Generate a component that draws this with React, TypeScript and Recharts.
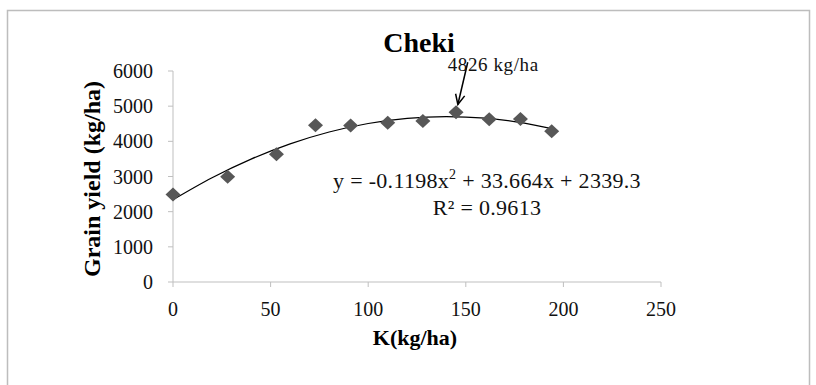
import { ComposedChart, Line, ReferenceLine, Scatter, XAxis, YAxis } from "recharts";

// K rate (kg/ha) vs grain yield (kg/ha)
const kRates = [0, 28, 53, 73, 91, 110, 128, 145, 162, 178, 194];
const grainYield = [2490, 2990, 3630, 4455, 4450, 4530, 4580, 4826, 4630, 4635, 4285];

// polynomial trendline as drawn in the figure
const trendRates = [0, 20, 40, 60, 80, 100, 120, 140, 160, 180, 194];
const trendYield = [2339, 2965, 3494, 3928, 4266, 4508, 4654, 4704, 4659, 4517, 4361];

const xTicks = [0, 50, 100, 150, 200, 250];
const yTicks = [0, 1000, 2000, 3000, 4000, 5000, 6000];

const peakRate = 145;
const peakYield = 4826;
const equation = ["y = -0.1198x", "2", " + 33.664x + 2339.3"];
const rSquared = "R² = 0.9613";

const points = kRates.map((x, i) => ({ x, y: grainYield[i] }));
const trend = trendRates.map((x, i) => ({ x, y: trendYield[i] }));

const FONT = "Liberation Serif";
const AXIS = "#bfbfbf";
const tickStyle = { fontSize: 20, fill: "#111", fontFamily: FONT };

function Diamond(props: any) {
  const { cx, cy } = props;
  return (
    <polygon
      points={`${cx},${cy - 7} ${cx + 7.5},${cy} ${cx},${cy + 7} ${cx - 7.5},${cy}`}
      fill="#575757"
    />
  );
}

// arrow from the label down to the peak point
function Arrow(props: any) {
  const { x1, y1, x2, y2 } = props;
  const dx = x1 - x2;
  const dy = y1 - y2;
  const len = Math.hypot(dx, dy);
  const ux = dx / len;
  const uy = dy / len;
  const tx = x1 - ux * 8;
  const ty = y1 - uy * 8;
  const a = (25 * Math.PI) / 180;
  const h = 11;
  const lx = tx - h * (ux * Math.cos(a) - uy * Math.sin(a));
  const ly = ty - h * (uy * Math.cos(a) + ux * Math.sin(a));
  const rx = tx - h * (ux * Math.cos(a) + uy * Math.sin(a));
  const ry = ty - h * (uy * Math.cos(a) - ux * Math.sin(a));
  return (
    <g>
      <line x1={x2} y1={y2} x2={tx} y2={ty} stroke="#000" strokeWidth={1.5} />
      <polyline points={`${lx},${ly} ${tx},${ty} ${rx},${ry}`} fill="none" stroke="#000" strokeWidth={1.5} />
      <text x={x2 - 20} y={y2 + 9} fontSize={19} letterSpacing={0.6} fontFamily={FONT} fill="#111">
        {peakYield} kg/ha
      </text>
    </g>
  );
}

export default function App() {
  return (
    <div style={{ position: "absolute", left: 0, top: 0, width: 816, height: 385, background: "#fff" }}>
      <ComposedChart width={816} height={385} margin={{ top: 71, right: 155, bottom: 0, left: 0 }}>
        <XAxis
          type="number"
          dataKey="x"
          domain={[0, 250]}
          ticks={xTicks}
          height={103}
          tick={tickStyle}
          tickSize={5}
          tickMargin={15}
          stroke={AXIS}
          axisLine={{ stroke: AXIS }}
          tickLine={{ stroke: AXIS }}
        />
        <YAxis
          type="number"
          dataKey="y"
          domain={[0, 6000]}
          ticks={yTicks}
          width={173}
          tick={tickStyle}
          tickSize={5}
          tickMargin={15}
          stroke={AXIS}
          axisLine={{ stroke: AXIS }}
          tickLine={{ stroke: AXIS }}
        />
        <Scatter data={points} dataKey="y" shape={Diamond} isAnimationActive={false} />
        <Line
          data={trend}
          dataKey="y"
          type="monotone"
          stroke="#000"
          strokeWidth={1.2}
          dot={false}
          activeDot={false}
          isAnimationActive={false}
        />
        <ReferenceLine
          segment={[
            { x: peakRate, y: peakYield },
            { x: 151, y: 6250 },
          ]}
          ifOverflow="visible"
          shape={Arrow}
        />
      </ComposedChart>
      <svg
        width={816}
        height={385}
        style={{ position: "absolute", left: 0, top: 0, pointerEvents: "none" }}
      >
        <path d="M7.5,385 V10.5 H809.5 V385" fill="none" stroke="#bdbdbd" strokeWidth={1.5} />
        <text x={419} y={52} textAnchor="middle" fontSize={28} fontWeight="bold" fontFamily={FONT} fill="#000">
          Cheki
        </text>
        <text
          transform="translate(100,179) rotate(-90)"
          textAnchor="middle"
          fontSize={24}
          fontWeight="bold"
          fontFamily={FONT}
          fill="#000"
        >
          Grain yield (kg/ha)
        </text>
        <text x={415} y={345} textAnchor="middle" fontSize={22} fontWeight="bold" fontFamily={FONT} fill="#000">
          K(kg/ha)
        </text>
        <text x={487} y={188} textAnchor="middle" fontSize={22} letterSpacing={0.3} fontFamily={FONT} fill="#111">
          {equation[0]}
          <tspan dy={-9} fontSize={14}>
            {equation[1]}
          </tspan>
          <tspan dy={9}>{equation[2]}</tspan>
        </text>
        <text x={487} y={215} textAnchor="middle" fontSize={22} letterSpacing={0.3} fontFamily={FONT} fill="#111">
          {rSquared}
        </text>
      </svg>
    </div>
  );
}
